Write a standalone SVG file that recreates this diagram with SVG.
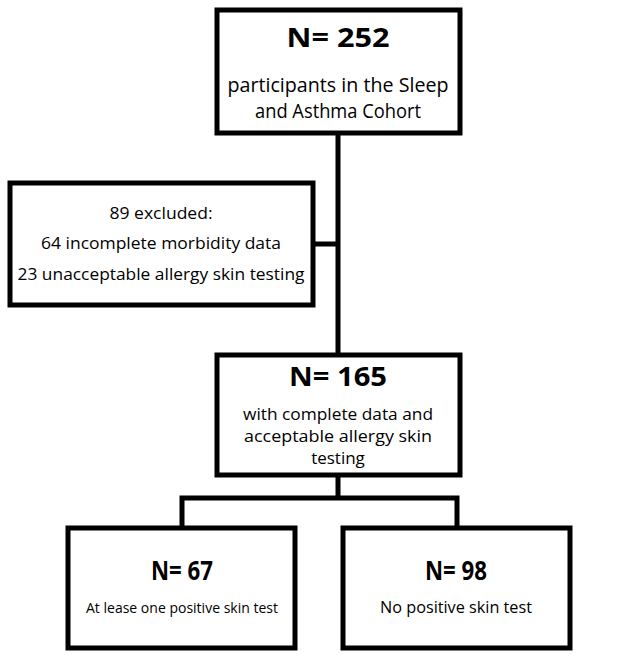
<svg xmlns="http://www.w3.org/2000/svg" width="617" height="660" viewBox="0 0 617 660">
<style>
.box{fill:#fff;stroke:#000;stroke-width:5}
.ln{fill:none;stroke:#000;stroke-width:5;stroke-linejoin:miter}
text{font-family:"Open Sans","Liberation Sans",sans-serif;fill:#000;text-anchor:middle}
.h{font-weight:bold;font-size:26px}
.t{font-size:20px}
.m{font-size:17px}
.s{font-size:15px}
</style>
<rect width="617" height="660" fill="#fff"/>
<g id="connectors">
<path class="ln" d="M338,133 V355"/>
<path class="ln" d="M313,244 H338"/>
<path class="ln" d="M338,475 V498 M182,528 V498 H457 V528"/>
</g>
<g id="n252">
<rect class="box" x="217" y="10" width="243" height="123"/>
<text class="h" x="338" y="47" textLength="103" lengthAdjust="spacingAndGlyphs">N= 252</text>
<text class="t" x="338" y="92" textLength="221" lengthAdjust="spacingAndGlyphs">participants in the Sleep</text>
<text class="t" x="338" y="118" textLength="166" lengthAdjust="spacingAndGlyphs">and Asthma Cohort</text>
</g>
<g id="excluded">
<rect class="box" x="10" y="183" width="303" height="122"/>
<text class="m" x="161" y="219" textLength="103" lengthAdjust="spacingAndGlyphs">89 excluded:</text>
<text class="m" x="161" y="249" textLength="240" lengthAdjust="spacingAndGlyphs">64 incomplete morbidity data</text>
<text class="m" x="161" y="280" textLength="287" lengthAdjust="spacingAndGlyphs">23 unacceptable allergy skin testing</text>
</g>
<g id="n165">
<rect class="box" x="217" y="355" width="243" height="120"/>
<text class="h" x="338" y="386" textLength="98" lengthAdjust="spacingAndGlyphs">N= 165</text>
<text class="m" x="338" y="420" textLength="190" lengthAdjust="spacingAndGlyphs">with complete data and</text>
<text class="m" x="338" y="442" textLength="188" lengthAdjust="spacingAndGlyphs">acceptable allergy skin</text>
<text class="m" x="338" y="464">testing</text>
</g>
<g id="n67">
<rect class="box" x="68" y="528" width="227" height="120"/>
<text class="h" x="182" y="580" textLength="62" lengthAdjust="spacingAndGlyphs">N= 67</text>
<text class="s" x="182" y="613" textLength="192" lengthAdjust="spacingAndGlyphs">At lease one positive skin test</text>
</g>
<g id="n98">
<rect class="box" x="343" y="528" width="227" height="120"/>
<text class="h" x="456" y="580" textLength="62" lengthAdjust="spacingAndGlyphs">N= 98</text>
<text class="m" x="456" y="613" textLength="152" lengthAdjust="spacingAndGlyphs">No positive skin test</text>
</g>
</svg>
